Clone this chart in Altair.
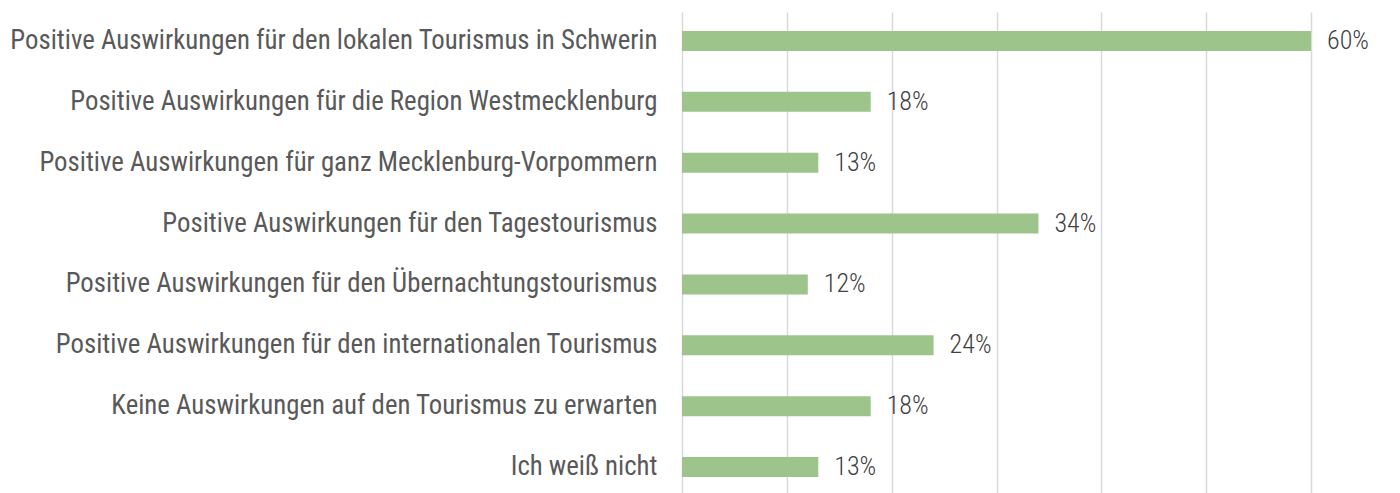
import altair as alt
import pandas as pd

categories = [
    "Positive Auswirkungen für den lokalen Tourismus in Schwerin",
    "Positive Auswirkungen für die Region Westmecklenburg",
    "Positive Auswirkungen für ganz Mecklenburg-Vorpommern",
    "Positive Auswirkungen für den Tagestourismus",
    "Positive Auswirkungen für den Übernachtungstourismus",
    "Positive Auswirkungen für den internationalen Tourismus",
    "Keine Auswirkungen auf den Tourismus zu erwarten",
    "Ich weiß nicht",
]
values = [60, 18, 13, 34, 12, 24, 18, 13]

df = pd.DataFrame({"cat": categories, "val": values})
df["label"] = [f"{v}%" for v in values]

FONT = "Roboto Condensed, Liberation Sans Narrow, Roboto"

y = alt.Y("cat:N", sort=categories, title=None,
          scale=alt.Scale(paddingInner=0.671, paddingOuter=0.312),
          axis=alt.Axis(domain=False, ticks=False, labelPadding=25, labelLimit=0,
                        labelFontSize=26.8, labelColor="#595959", labelFont=FONT,
                        labelFontWeight="normal"))
x = alt.X("val:Q", title=None, scale=alt.Scale(domain=[0, 60], nice=False),
          axis=alt.Axis(values=[0, 10, 20, 30, 40, 50, 60], labels=False, ticks=False,
                        domain=False, grid=True, gridColor="#D9D9D9", gridWidth=1.5))

bars = alt.Chart(df).mark_bar(color="#9DC48B").encode(x=x, y=y)
text = alt.Chart(df).mark_text(align="left", baseline="middle", dx=16, fontSize=26,
                               color="#404040", font=FONT, fontWeight=300).encode(
    x="val:Q", y=alt.Y("cat:N", sort=categories), text="label:N")

chart = (bars + text).properties(
    width=629, height=484,
    autosize=alt.AutoSizeParams(type="none"),
    padding={"left": 674, "top": 4, "right": 70, "bottom": 0},
).configure_view(stroke=None)

chart.save("out.html", embed_options={"renderer": "svg", "actions": False})
